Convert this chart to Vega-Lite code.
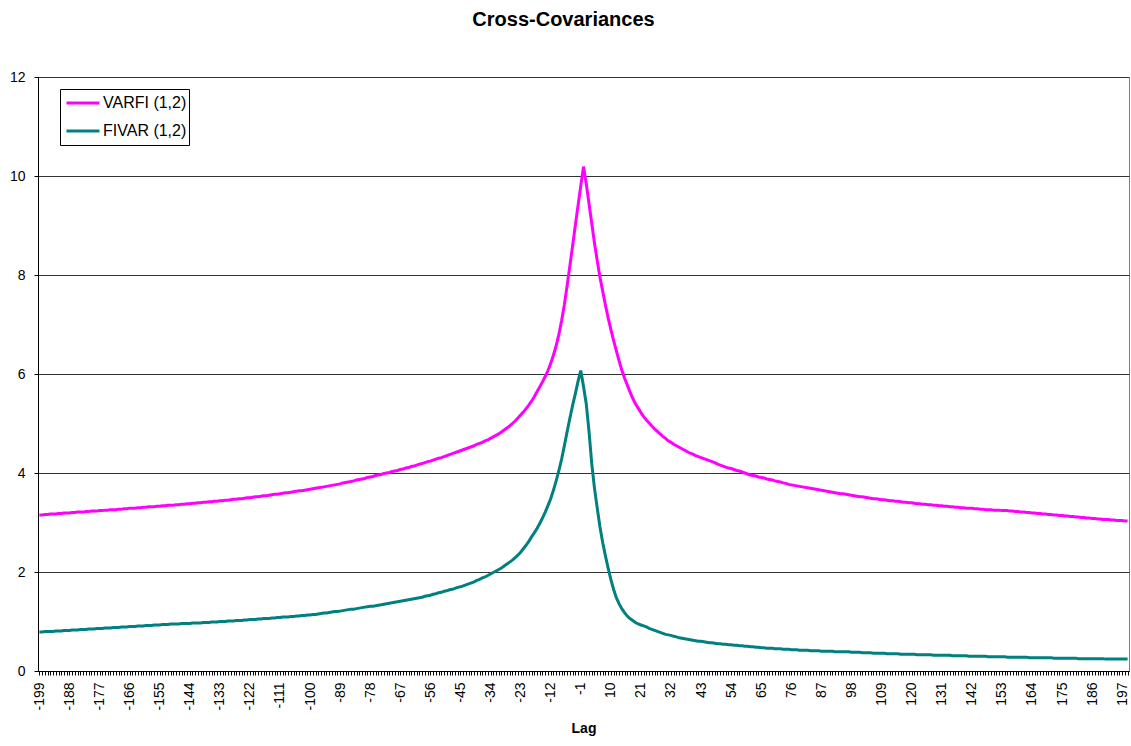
{
"$schema": "https://vega.github.io/schema/vega-lite/v6.json",
"width": 1091,
"height": 594,
"autosize": {"type": "none"},
"padding": {"left": 38, "top": 77, "right": 2, "bottom": 75},
"background": "white",
"title": {"text": "Cross-Covariances", "font": "Liberation Sans", "fontSize": 20, "fontWeight": "bold", "color": "#000000", "anchor": "middle", "offset": 40, "dx": -20},
"config": {"view": {"stroke": "#808080", "strokeWidth": 1}, "font": "Liberation Sans"},
"data": {"values": [
{"lag":-199,"VARFI":3.15,"FIVAR":0.79},{"lag":-198,"VARFI":3.15,"FIVAR":0.79},{"lag":-197,"VARFI":3.16,"FIVAR":0.80},{"lag":-196,"VARFI":3.16,"FIVAR":0.80},{"lag":-195,"VARFI":3.17,"FIVAR":0.80},{"lag":-194,"VARFI":3.17,"FIVAR":0.80},{"lag":-193,"VARFI":3.17,"FIVAR":0.81},{"lag":-192,"VARFI":3.18,"FIVAR":0.81},{"lag":-191,"VARFI":3.18,"FIVAR":0.81},{"lag":-190,"VARFI":3.19,"FIVAR":0.82},
{"lag":-189,"VARFI":3.19,"FIVAR":0.82},{"lag":-188,"VARFI":3.19,"FIVAR":0.82},{"lag":-187,"VARFI":3.20,"FIVAR":0.83},{"lag":-186,"VARFI":3.20,"FIVAR":0.83},{"lag":-185,"VARFI":3.21,"FIVAR":0.83},{"lag":-184,"VARFI":3.21,"FIVAR":0.84},{"lag":-183,"VARFI":3.21,"FIVAR":0.84},{"lag":-182,"VARFI":3.22,"FIVAR":0.84},{"lag":-181,"VARFI":3.22,"FIVAR":0.85},{"lag":-180,"VARFI":3.23,"FIVAR":0.85},
{"lag":-179,"VARFI":3.23,"FIVAR":0.85},{"lag":-178,"VARFI":3.23,"FIVAR":0.86},{"lag":-177,"VARFI":3.24,"FIVAR":0.86},{"lag":-176,"VARFI":3.24,"FIVAR":0.86},{"lag":-175,"VARFI":3.25,"FIVAR":0.87},{"lag":-174,"VARFI":3.25,"FIVAR":0.87},{"lag":-173,"VARFI":3.26,"FIVAR":0.87},{"lag":-172,"VARFI":3.26,"FIVAR":0.88},{"lag":-171,"VARFI":3.26,"FIVAR":0.88},{"lag":-170,"VARFI":3.27,"FIVAR":0.88},
{"lag":-169,"VARFI":3.27,"FIVAR":0.89},{"lag":-168,"VARFI":3.28,"FIVAR":0.89},{"lag":-167,"VARFI":3.28,"FIVAR":0.89},{"lag":-166,"VARFI":3.29,"FIVAR":0.90},{"lag":-165,"VARFI":3.29,"FIVAR":0.90},{"lag":-164,"VARFI":3.29,"FIVAR":0.90},{"lag":-163,"VARFI":3.30,"FIVAR":0.91},{"lag":-162,"VARFI":3.30,"FIVAR":0.91},{"lag":-161,"VARFI":3.31,"FIVAR":0.91},{"lag":-160,"VARFI":3.31,"FIVAR":0.92},
{"lag":-159,"VARFI":3.32,"FIVAR":0.92},{"lag":-158,"VARFI":3.32,"FIVAR":0.92},{"lag":-157,"VARFI":3.32,"FIVAR":0.93},{"lag":-156,"VARFI":3.33,"FIVAR":0.93},{"lag":-155,"VARFI":3.33,"FIVAR":0.93},{"lag":-154,"VARFI":3.34,"FIVAR":0.94},{"lag":-153,"VARFI":3.34,"FIVAR":0.94},{"lag":-152,"VARFI":3.35,"FIVAR":0.94},{"lag":-151,"VARFI":3.35,"FIVAR":0.95},{"lag":-150,"VARFI":3.35,"FIVAR":0.95},
{"lag":-149,"VARFI":3.36,"FIVAR":0.95},{"lag":-148,"VARFI":3.36,"FIVAR":0.95},{"lag":-147,"VARFI":3.37,"FIVAR":0.96},{"lag":-146,"VARFI":3.37,"FIVAR":0.96},{"lag":-145,"VARFI":3.38,"FIVAR":0.96},{"lag":-144,"VARFI":3.38,"FIVAR":0.96},{"lag":-143,"VARFI":3.39,"FIVAR":0.97},{"lag":-142,"VARFI":3.39,"FIVAR":0.97},{"lag":-141,"VARFI":3.40,"FIVAR":0.97},{"lag":-140,"VARFI":3.40,"FIVAR":0.97},
{"lag":-139,"VARFI":3.41,"FIVAR":0.98},{"lag":-138,"VARFI":3.41,"FIVAR":0.98},{"lag":-137,"VARFI":3.42,"FIVAR":0.98},{"lag":-136,"VARFI":3.42,"FIVAR":0.99},{"lag":-135,"VARFI":3.43,"FIVAR":0.99},{"lag":-134,"VARFI":3.43,"FIVAR":0.99},{"lag":-133,"VARFI":3.44,"FIVAR":1.00},{"lag":-132,"VARFI":3.44,"FIVAR":1.00},{"lag":-131,"VARFI":3.45,"FIVAR":1.00},{"lag":-130,"VARFI":3.45,"FIVAR":1.01},
{"lag":-129,"VARFI":3.46,"FIVAR":1.01},{"lag":-128,"VARFI":3.47,"FIVAR":1.01},{"lag":-127,"VARFI":3.47,"FIVAR":1.02},{"lag":-126,"VARFI":3.48,"FIVAR":1.02},{"lag":-125,"VARFI":3.48,"FIVAR":1.02},{"lag":-124,"VARFI":3.49,"FIVAR":1.03},{"lag":-123,"VARFI":3.50,"FIVAR":1.03},{"lag":-122,"VARFI":3.50,"FIVAR":1.04},{"lag":-121,"VARFI":3.51,"FIVAR":1.04},{"lag":-120,"VARFI":3.52,"FIVAR":1.04},
{"lag":-119,"VARFI":3.52,"FIVAR":1.05},{"lag":-118,"VARFI":3.53,"FIVAR":1.05},{"lag":-117,"VARFI":3.54,"FIVAR":1.06},{"lag":-116,"VARFI":3.54,"FIVAR":1.06},{"lag":-115,"VARFI":3.55,"FIVAR":1.06},{"lag":-114,"VARFI":3.56,"FIVAR":1.07},{"lag":-113,"VARFI":3.57,"FIVAR":1.07},{"lag":-112,"VARFI":3.57,"FIVAR":1.08},{"lag":-111,"VARFI":3.58,"FIVAR":1.08},{"lag":-110,"VARFI":3.59,"FIVAR":1.09},
{"lag":-109,"VARFI":3.60,"FIVAR":1.09},{"lag":-108,"VARFI":3.60,"FIVAR":1.09},{"lag":-107,"VARFI":3.61,"FIVAR":1.10},{"lag":-106,"VARFI":3.62,"FIVAR":1.10},{"lag":-105,"VARFI":3.63,"FIVAR":1.11},{"lag":-104,"VARFI":3.64,"FIVAR":1.11},{"lag":-103,"VARFI":3.64,"FIVAR":1.12},{"lag":-102,"VARFI":3.65,"FIVAR":1.12},{"lag":-101,"VARFI":3.66,"FIVAR":1.13},{"lag":-100,"VARFI":3.67,"FIVAR":1.13},
{"lag":-99,"VARFI":3.68,"FIVAR":1.14},{"lag":-98,"VARFI":3.69,"FIVAR":1.14},{"lag":-97,"VARFI":3.70,"FIVAR":1.15},{"lag":-96,"VARFI":3.71,"FIVAR":1.16},{"lag":-95,"VARFI":3.72,"FIVAR":1.17},{"lag":-94,"VARFI":3.73,"FIVAR":1.17},{"lag":-93,"VARFI":3.74,"FIVAR":1.18},{"lag":-92,"VARFI":3.75,"FIVAR":1.19},{"lag":-91,"VARFI":3.76,"FIVAR":1.20},{"lag":-90,"VARFI":3.77,"FIVAR":1.20},
{"lag":-89,"VARFI":3.78,"FIVAR":1.21},{"lag":-88,"VARFI":3.80,"FIVAR":1.22},{"lag":-87,"VARFI":3.81,"FIVAR":1.23},{"lag":-86,"VARFI":3.82,"FIVAR":1.24},{"lag":-85,"VARFI":3.83,"FIVAR":1.25},{"lag":-84,"VARFI":3.84,"FIVAR":1.25},{"lag":-83,"VARFI":3.86,"FIVAR":1.26},{"lag":-82,"VARFI":3.87,"FIVAR":1.27},{"lag":-81,"VARFI":3.88,"FIVAR":1.28},{"lag":-80,"VARFI":3.89,"FIVAR":1.29},
{"lag":-79,"VARFI":3.91,"FIVAR":1.30},{"lag":-78,"VARFI":3.92,"FIVAR":1.31},{"lag":-77,"VARFI":3.93,"FIVAR":1.31},{"lag":-76,"VARFI":3.95,"FIVAR":1.32},{"lag":-75,"VARFI":3.96,"FIVAR":1.33},{"lag":-74,"VARFI":3.97,"FIVAR":1.34},{"lag":-73,"VARFI":3.99,"FIVAR":1.35},{"lag":-72,"VARFI":4.00,"FIVAR":1.36},{"lag":-71,"VARFI":4.01,"FIVAR":1.37},{"lag":-70,"VARFI":4.03,"FIVAR":1.38},
{"lag":-69,"VARFI":4.04,"FIVAR":1.39},{"lag":-68,"VARFI":4.05,"FIVAR":1.40},{"lag":-67,"VARFI":4.07,"FIVAR":1.41},{"lag":-66,"VARFI":4.08,"FIVAR":1.42},{"lag":-65,"VARFI":4.10,"FIVAR":1.43},{"lag":-64,"VARFI":4.11,"FIVAR":1.44},{"lag":-63,"VARFI":4.13,"FIVAR":1.45},{"lag":-62,"VARFI":4.14,"FIVAR":1.46},{"lag":-61,"VARFI":4.16,"FIVAR":1.47},{"lag":-60,"VARFI":4.18,"FIVAR":1.48},
{"lag":-59,"VARFI":4.19,"FIVAR":1.49},{"lag":-58,"VARFI":4.21,"FIVAR":1.51},{"lag":-57,"VARFI":4.23,"FIVAR":1.52},{"lag":-56,"VARFI":4.24,"FIVAR":1.53},{"lag":-55,"VARFI":4.26,"FIVAR":1.55},{"lag":-54,"VARFI":4.28,"FIVAR":1.56},{"lag":-53,"VARFI":4.30,"FIVAR":1.58},{"lag":-52,"VARFI":4.31,"FIVAR":1.59},{"lag":-51,"VARFI":4.33,"FIVAR":1.61},{"lag":-50,"VARFI":4.35,"FIVAR":1.62},
{"lag":-49,"VARFI":4.37,"FIVAR":1.64},{"lag":-48,"VARFI":4.39,"FIVAR":1.65},{"lag":-47,"VARFI":4.41,"FIVAR":1.67},{"lag":-46,"VARFI":4.43,"FIVAR":1.69},{"lag":-45,"VARFI":4.45,"FIVAR":1.70},{"lag":-44,"VARFI":4.47,"FIVAR":1.72},{"lag":-43,"VARFI":4.49,"FIVAR":1.74},{"lag":-42,"VARFI":4.51,"FIVAR":1.76},{"lag":-41,"VARFI":4.53,"FIVAR":1.78},{"lag":-40,"VARFI":4.55,"FIVAR":1.80},
{"lag":-39,"VARFI":4.58,"FIVAR":1.83},{"lag":-38,"VARFI":4.60,"FIVAR":1.85},{"lag":-37,"VARFI":4.62,"FIVAR":1.88},{"lag":-36,"VARFI":4.65,"FIVAR":1.90},{"lag":-35,"VARFI":4.67,"FIVAR":1.93},{"lag":-34,"VARFI":4.70,"FIVAR":1.96},{"lag":-33,"VARFI":4.73,"FIVAR":1.99},{"lag":-32,"VARFI":4.76,"FIVAR":2.02},{"lag":-31,"VARFI":4.79,"FIVAR":2.05},{"lag":-30,"VARFI":4.83,"FIVAR":2.08},
{"lag":-29,"VARFI":4.87,"FIVAR":2.12},{"lag":-28,"VARFI":4.91,"FIVAR":2.16},{"lag":-27,"VARFI":4.95,"FIVAR":2.20},{"lag":-26,"VARFI":5.00,"FIVAR":2.24},{"lag":-25,"VARFI":5.05,"FIVAR":2.29},{"lag":-24,"VARFI":5.11,"FIVAR":2.34},{"lag":-23,"VARFI":5.17,"FIVAR":2.40},{"lag":-22,"VARFI":5.23,"FIVAR":2.47},{"lag":-21,"VARFI":5.30,"FIVAR":2.54},{"lag":-20,"VARFI":5.37,"FIVAR":2.62},
{"lag":-19,"VARFI":5.45,"FIVAR":2.71},{"lag":-18,"VARFI":5.54,"FIVAR":2.79},{"lag":-17,"VARFI":5.64,"FIVAR":2.88},{"lag":-16,"VARFI":5.74,"FIVAR":2.98},{"lag":-15,"VARFI":5.84,"FIVAR":3.09},{"lag":-14,"VARFI":5.95,"FIVAR":3.21},{"lag":-13,"VARFI":6.07,"FIVAR":3.34},{"lag":-12,"VARFI":6.21,"FIVAR":3.48},{"lag":-11,"VARFI":6.38,"FIVAR":3.65},{"lag":-10,"VARFI":6.57,"FIVAR":3.84},
{"lag":-9,"VARFI":6.80,"FIVAR":4.05},{"lag":-8,"VARFI":7.08,"FIVAR":4.28},{"lag":-7,"VARFI":7.40,"FIVAR":4.55},{"lag":-6,"VARFI":7.78,"FIVAR":4.83},{"lag":-5,"VARFI":8.18,"FIVAR":5.10},{"lag":-4,"VARFI":8.58,"FIVAR":5.36},{"lag":-3,"VARFI":9.00,"FIVAR":5.60},{"lag":-2,"VARFI":9.40,"FIVAR":5.85},{"lag":-1,"VARFI":9.80,"FIVAR":6.07},{"lag":0,"VARFI":10.19,"FIVAR":5.75},
{"lag":1,"VARFI":9.85,"FIVAR":5.40},{"lag":2,"VARFI":9.45,"FIVAR":4.85},{"lag":3,"VARFI":9.05,"FIVAR":4.20},{"lag":4,"VARFI":8.65,"FIVAR":3.70},{"lag":5,"VARFI":8.30,"FIVAR":3.30},{"lag":6,"VARFI":7.96,"FIVAR":2.92},{"lag":7,"VARFI":7.68,"FIVAR":2.60},{"lag":8,"VARFI":7.40,"FIVAR":2.33},{"lag":9,"VARFI":7.14,"FIVAR":2.08},{"lag":10,"VARFI":6.90,"FIVAR":1.85},
{"lag":11,"VARFI":6.68,"FIVAR":1.65},{"lag":12,"VARFI":6.47,"FIVAR":1.48},{"lag":13,"VARFI":6.27,"FIVAR":1.36},{"lag":14,"VARFI":6.08,"FIVAR":1.26},{"lag":15,"VARFI":5.92,"FIVAR":1.18},{"lag":16,"VARFI":5.78,"FIVAR":1.11},{"lag":17,"VARFI":5.64,"FIVAR":1.06},{"lag":18,"VARFI":5.51,"FIVAR":1.02},{"lag":19,"VARFI":5.40,"FIVAR":0.98},{"lag":20,"VARFI":5.31,"FIVAR":0.95},
{"lag":21,"VARFI":5.22,"FIVAR":0.93},{"lag":22,"VARFI":5.14,"FIVAR":0.91},{"lag":23,"VARFI":5.07,"FIVAR":0.89},{"lag":24,"VARFI":5.01,"FIVAR":0.86},{"lag":25,"VARFI":4.95,"FIVAR":0.84},{"lag":26,"VARFI":4.89,"FIVAR":0.82},{"lag":27,"VARFI":4.84,"FIVAR":0.80},{"lag":28,"VARFI":4.79,"FIVAR":0.78},{"lag":29,"VARFI":4.74,"FIVAR":0.76},{"lag":30,"VARFI":4.70,"FIVAR":0.74},
{"lag":31,"VARFI":4.65,"FIVAR":0.73},{"lag":32,"VARFI":4.62,"FIVAR":0.72},{"lag":33,"VARFI":4.58,"FIVAR":0.70},{"lag":34,"VARFI":4.55,"FIVAR":0.69},{"lag":35,"VARFI":4.52,"FIVAR":0.67},{"lag":36,"VARFI":4.49,"FIVAR":0.66},{"lag":37,"VARFI":4.46,"FIVAR":0.65},{"lag":38,"VARFI":4.43,"FIVAR":0.64},{"lag":39,"VARFI":4.40,"FIVAR":0.63},{"lag":40,"VARFI":4.38,"FIVAR":0.62},
{"lag":41,"VARFI":4.35,"FIVAR":0.61},{"lag":42,"VARFI":4.33,"FIVAR":0.60},{"lag":43,"VARFI":4.31,"FIVAR":0.60},{"lag":44,"VARFI":4.29,"FIVAR":0.59},{"lag":45,"VARFI":4.27,"FIVAR":0.58},{"lag":46,"VARFI":4.25,"FIVAR":0.57},{"lag":47,"VARFI":4.23,"FIVAR":0.57},{"lag":48,"VARFI":4.21,"FIVAR":0.56},{"lag":49,"VARFI":4.18,"FIVAR":0.55},{"lag":50,"VARFI":4.16,"FIVAR":0.55},
{"lag":51,"VARFI":4.14,"FIVAR":0.54},{"lag":52,"VARFI":4.12,"FIVAR":0.54},{"lag":53,"VARFI":4.10,"FIVAR":0.53},{"lag":54,"VARFI":4.09,"FIVAR":0.53},{"lag":55,"VARFI":4.07,"FIVAR":0.52},{"lag":56,"VARFI":4.05,"FIVAR":0.52},{"lag":57,"VARFI":4.04,"FIVAR":0.51},{"lag":58,"VARFI":4.02,"FIVAR":0.51},{"lag":59,"VARFI":4.00,"FIVAR":0.50},{"lag":60,"VARFI":3.98,"FIVAR":0.50},
{"lag":61,"VARFI":3.96,"FIVAR":0.49},{"lag":62,"VARFI":3.95,"FIVAR":0.49},{"lag":63,"VARFI":3.94,"FIVAR":0.48},{"lag":64,"VARFI":3.92,"FIVAR":0.48},{"lag":65,"VARFI":3.91,"FIVAR":0.47},{"lag":66,"VARFI":3.90,"FIVAR":0.47},{"lag":67,"VARFI":3.88,"FIVAR":0.46},{"lag":68,"VARFI":3.87,"FIVAR":0.46},{"lag":69,"VARFI":3.86,"FIVAR":0.46},{"lag":70,"VARFI":3.84,"FIVAR":0.45},
{"lag":71,"VARFI":3.83,"FIVAR":0.45},{"lag":72,"VARFI":3.82,"FIVAR":0.45},{"lag":73,"VARFI":3.80,"FIVAR":0.44},{"lag":74,"VARFI":3.79,"FIVAR":0.44},{"lag":75,"VARFI":3.77,"FIVAR":0.44},{"lag":76,"VARFI":3.76,"FIVAR":0.43},{"lag":77,"VARFI":3.75,"FIVAR":0.43},{"lag":78,"VARFI":3.74,"FIVAR":0.43},{"lag":79,"VARFI":3.73,"FIVAR":0.42},{"lag":80,"VARFI":3.72,"FIVAR":0.42},
{"lag":81,"VARFI":3.71,"FIVAR":0.42},{"lag":82,"VARFI":3.70,"FIVAR":0.42},{"lag":83,"VARFI":3.69,"FIVAR":0.41},{"lag":84,"VARFI":3.68,"FIVAR":0.41},{"lag":85,"VARFI":3.67,"FIVAR":0.41},{"lag":86,"VARFI":3.66,"FIVAR":0.41},{"lag":87,"VARFI":3.65,"FIVAR":0.40},{"lag":88,"VARFI":3.64,"FIVAR":0.40},{"lag":89,"VARFI":3.63,"FIVAR":0.40},{"lag":90,"VARFI":3.62,"FIVAR":0.40},
{"lag":91,"VARFI":3.61,"FIVAR":0.40},{"lag":92,"VARFI":3.60,"FIVAR":0.39},{"lag":93,"VARFI":3.59,"FIVAR":0.39},{"lag":94,"VARFI":3.58,"FIVAR":0.39},{"lag":95,"VARFI":3.58,"FIVAR":0.39},{"lag":96,"VARFI":3.57,"FIVAR":0.39},{"lag":97,"VARFI":3.56,"FIVAR":0.39},{"lag":98,"VARFI":3.55,"FIVAR":0.38},{"lag":99,"VARFI":3.54,"FIVAR":0.38},{"lag":100,"VARFI":3.53,"FIVAR":0.38},
{"lag":101,"VARFI":3.52,"FIVAR":0.38},{"lag":102,"VARFI":3.52,"FIVAR":0.37},{"lag":103,"VARFI":3.51,"FIVAR":0.37},{"lag":104,"VARFI":3.50,"FIVAR":0.37},{"lag":105,"VARFI":3.49,"FIVAR":0.37},{"lag":106,"VARFI":3.48,"FIVAR":0.36},{"lag":107,"VARFI":3.48,"FIVAR":0.36},{"lag":108,"VARFI":3.47,"FIVAR":0.36},{"lag":109,"VARFI":3.46,"FIVAR":0.36},{"lag":110,"VARFI":3.46,"FIVAR":0.36},
{"lag":111,"VARFI":3.45,"FIVAR":0.35},{"lag":112,"VARFI":3.44,"FIVAR":0.35},{"lag":113,"VARFI":3.44,"FIVAR":0.35},{"lag":114,"VARFI":3.43,"FIVAR":0.35},{"lag":115,"VARFI":3.43,"FIVAR":0.35},{"lag":116,"VARFI":3.42,"FIVAR":0.34},{"lag":117,"VARFI":3.41,"FIVAR":0.34},{"lag":118,"VARFI":3.41,"FIVAR":0.34},{"lag":119,"VARFI":3.40,"FIVAR":0.34},{"lag":120,"VARFI":3.40,"FIVAR":0.34},
{"lag":121,"VARFI":3.39,"FIVAR":0.34},{"lag":122,"VARFI":3.38,"FIVAR":0.33},{"lag":123,"VARFI":3.38,"FIVAR":0.33},{"lag":124,"VARFI":3.37,"FIVAR":0.33},{"lag":125,"VARFI":3.37,"FIVAR":0.33},{"lag":126,"VARFI":3.36,"FIVAR":0.33},{"lag":127,"VARFI":3.36,"FIVAR":0.33},{"lag":128,"VARFI":3.35,"FIVAR":0.32},{"lag":129,"VARFI":3.35,"FIVAR":0.32},{"lag":130,"VARFI":3.34,"FIVAR":0.32},
{"lag":131,"VARFI":3.34,"FIVAR":0.32},{"lag":132,"VARFI":3.33,"FIVAR":0.32},{"lag":133,"VARFI":3.33,"FIVAR":0.32},{"lag":134,"VARFI":3.32,"FIVAR":0.32},{"lag":135,"VARFI":3.32,"FIVAR":0.31},{"lag":136,"VARFI":3.31,"FIVAR":0.31},{"lag":137,"VARFI":3.31,"FIVAR":0.31},{"lag":138,"VARFI":3.30,"FIVAR":0.31},{"lag":139,"VARFI":3.30,"FIVAR":0.31},{"lag":140,"VARFI":3.29,"FIVAR":0.31},
{"lag":141,"VARFI":3.29,"FIVAR":0.30},{"lag":142,"VARFI":3.29,"FIVAR":0.30},{"lag":143,"VARFI":3.28,"FIVAR":0.30},{"lag":144,"VARFI":3.28,"FIVAR":0.30},{"lag":145,"VARFI":3.27,"FIVAR":0.30},{"lag":146,"VARFI":3.27,"FIVAR":0.30},{"lag":147,"VARFI":3.26,"FIVAR":0.30},{"lag":148,"VARFI":3.26,"FIVAR":0.29},{"lag":149,"VARFI":3.26,"FIVAR":0.29},{"lag":150,"VARFI":3.25,"FIVAR":0.29},
{"lag":151,"VARFI":3.25,"FIVAR":0.29},{"lag":152,"VARFI":3.25,"FIVAR":0.29},{"lag":153,"VARFI":3.24,"FIVAR":0.29},{"lag":154,"VARFI":3.24,"FIVAR":0.29},{"lag":155,"VARFI":3.24,"FIVAR":0.28},{"lag":156,"VARFI":3.23,"FIVAR":0.28},{"lag":157,"VARFI":3.23,"FIVAR":0.28},{"lag":158,"VARFI":3.22,"FIVAR":0.28},{"lag":159,"VARFI":3.22,"FIVAR":0.28},{"lag":160,"VARFI":3.21,"FIVAR":0.28},
{"lag":161,"VARFI":3.21,"FIVAR":0.28},{"lag":162,"VARFI":3.20,"FIVAR":0.28},{"lag":163,"VARFI":3.20,"FIVAR":0.27},{"lag":164,"VARFI":3.19,"FIVAR":0.27},{"lag":165,"VARFI":3.19,"FIVAR":0.27},{"lag":166,"VARFI":3.18,"FIVAR":0.27},{"lag":167,"VARFI":3.18,"FIVAR":0.27},{"lag":168,"VARFI":3.17,"FIVAR":0.27},{"lag":169,"VARFI":3.17,"FIVAR":0.27},{"lag":170,"VARFI":3.16,"FIVAR":0.27},
{"lag":171,"VARFI":3.16,"FIVAR":0.27},{"lag":172,"VARFI":3.15,"FIVAR":0.26},{"lag":173,"VARFI":3.15,"FIVAR":0.26},{"lag":174,"VARFI":3.14,"FIVAR":0.26},{"lag":175,"VARFI":3.14,"FIVAR":0.26},{"lag":176,"VARFI":3.13,"FIVAR":0.26},{"lag":177,"VARFI":3.13,"FIVAR":0.26},{"lag":178,"VARFI":3.12,"FIVAR":0.26},{"lag":179,"VARFI":3.12,"FIVAR":0.26},{"lag":180,"VARFI":3.11,"FIVAR":0.26},
{"lag":181,"VARFI":3.11,"FIVAR":0.25},{"lag":182,"VARFI":3.10,"FIVAR":0.25},{"lag":183,"VARFI":3.10,"FIVAR":0.25},{"lag":184,"VARFI":3.09,"FIVAR":0.25},{"lag":185,"VARFI":3.09,"FIVAR":0.25},{"lag":186,"VARFI":3.08,"FIVAR":0.25},{"lag":187,"VARFI":3.08,"FIVAR":0.25},{"lag":188,"VARFI":3.07,"FIVAR":0.25},{"lag":189,"VARFI":3.07,"FIVAR":0.25},{"lag":190,"VARFI":3.06,"FIVAR":0.25},
{"lag":191,"VARFI":3.06,"FIVAR":0.24},{"lag":192,"VARFI":3.06,"FIVAR":0.24},{"lag":193,"VARFI":3.05,"FIVAR":0.24},{"lag":194,"VARFI":3.05,"FIVAR":0.24},{"lag":195,"VARFI":3.04,"FIVAR":0.24},{"lag":196,"VARFI":3.04,"FIVAR":0.24},{"lag":197,"VARFI":3.04,"FIVAR":0.24},{"lag":198,"VARFI":3.03,"FIVAR":0.24},{"lag":199,"VARFI":3.03,"FIVAR":0.24}
]},
"transform": [{"fold": ["VARFI", "FIVAR"], "as": ["series", "value"]}],
"mark": {"type": "line", "strokeWidth": 3},
"encoding": {
  "x": {"field": "lag", "type": "ordinal", "scale": {"type": "point", "padding": 0.5},
        "axis": {"title": "Lag", "titleFont": "Liberation Sans", "titleFontSize": 14, "titleFontWeight": "bold", "titleColor": "#000000", "titlePadding": 11,
                 "labelAngle": 270, "labelFont": "Liberation Sans", "labelFontSize": 14, "labelColor": "#000000", "labelPadding": 7,
                 "labelExpr": "(datum.value + 199) % 11 == 0 ? datum.label : ''", "labelOverlap": false, "labelBound": false,
                 "tickSize": 4, "tickColor": "#000000", "tickWidth": 1, "domainColor": "#000000", "domainWidth": 1, "grid": false}},
  "y": {"field": "value", "type": "quantitative", "scale": {"domain": [0, 12], "nice": false},
        "axis": {"title": null, "values": [0, 2, 4, 6, 8, 10, 12], "labelFont": "Liberation Sans", "labelFontSize": 14, "labelColor": "#000000", "labelPadding": 9,
                 "tickSize": 4, "tickColor": "#000000", "domainColor": "#000000", "grid": true, "gridColor": "#333333", "gridWidth": 1, "gridOpacity": 1}},
  "color": {"field": "series", "type": "nominal", "scale": {"domain": ["VARFI", "FIVAR"], "range": ["#FF00FF", "#008080"]},
            "legend": {"title": null, "orient": "none", "legendX": 22, "legendY": 12, "strokeColor": "#000000", "fillColor": "#ffffff", "padding": 2,
                       "symbolType": "stroke", "symbolStrokeWidth": 3, "symbolSize": 1089, "symbolOffset": 3, "clipHeight": 24,
                       "labelFont": "Liberation Sans", "labelFontSize": 16, "labelColor": "#000000",
                       "labelOffset": 2, "rowPadding": 4, "labelExpr": "datum.label + ' (1,2)'"}}
}
}
